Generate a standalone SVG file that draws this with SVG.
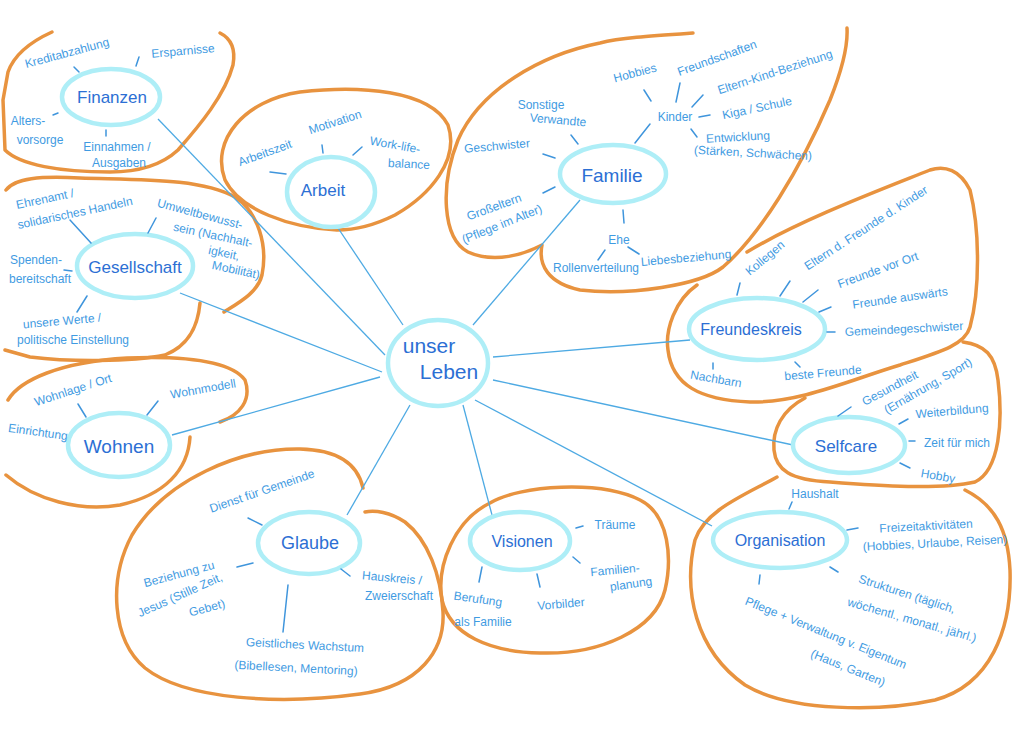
<svg xmlns="http://www.w3.org/2000/svg" width="1024" height="744" viewBox="0 0 1024 744">
<style>
.blob{fill:none;stroke:#e8933f;stroke-width:3.5;stroke-linecap:round;stroke-linejoin:round}
.node{fill:#ffffff;stroke:#aeeef7;stroke-width:4.5}
.n{font-family:"Liberation Sans",Arial,sans-serif;fill:#2c6fd4;text-anchor:middle;dominant-baseline:central}
.s{font-family:"Liberation Sans",Arial,sans-serif;font-size:12px;fill:#3f9be2;text-anchor:middle;dominant-baseline:central}
.t{stroke:#3f95dc;stroke-width:1.5;stroke-linecap:round;fill:none}
.c{stroke:#4eaae3;stroke-width:1.3;fill:none}
</style>
<rect width="1024" height="744" fill="#ffffff"/>
<g id="blobs">
<path class="blob" d="M52,32 C30,42 14,55 8,72 L3,100 L5,150 C20,165 60,172 110,172 C145,172 165,162 178,150 C200,125 225,95 233,65 C236,48 230,38 220,33"/>
<path class="blob" d="M6,190 C15,178 40,176 80,178 C140,180 200,178 235,197 C258,212 268,245 262,275 C258,292 240,302 224,312 M200,303 C198,325 190,345 165,355 C130,362 70,362 30,357 L5,350"/>
<path class="blob" d="M8,400 C20,380 60,362 127,358 C180,356 230,360 245,380 C252,400 240,415 220,422 M190,437 C188,470 165,495 120,505 C80,512 35,500 6,475"/>
<path class="blob" d="M337,230 C290,228 240,210 225,180 C210,140 245,100 300,92 C360,85 430,90 448,125 C460,160 430,195 395,215 C375,225 355,230 337,230 Z"/>
<path class="blob" d="M693,33 C650,36 620,38 600,43 C540,55 480,90 458,140 C440,185 442,238 468,252 C495,264 525,254 542,245 C538,265 548,283 580,290 C630,296 700,285 723,267 C760,235 800,170 830,100 C842,70 848,45 847,28"/>
<path class="blob" d="M697,285 C675,300 665,330 668,350 C672,385 700,400 750,402 C800,403 850,380 900,365 C940,352 965,345 970,327 C980,290 980,230 970,190 C960,170 945,165 930,170 C880,190 800,220 747,252"/>
<path class="blob" d="M805,398 C782,410 772,430 774,450 C776,470 790,480 830,482 C880,486 940,490 975,482 C1000,470 1003,420 998,380 C995,355 985,345 963,342"/>
<path class="blob" d="M777,477 C745,495 705,510 695,540 C683,590 695,650 745,685 C790,712 880,712 935,700 C990,685 1012,630 1010,570 C1008,530 995,505 965,490"/>
<path class="blob" d="M490,503 C520,485 600,480 640,500 C670,515 672,560 665,590 C655,630 600,655 540,653 C490,652 450,635 442,600 C436,565 455,520 490,503 Z"/>
<path class="blob" d="M363,488 C358,465 340,450 300,449 C240,448 165,480 132,535 C108,580 112,640 145,668 C185,700 280,705 360,694 C420,686 445,650 443,612 C441,575 428,540 405,522 C390,512 375,510 365,512"/>
</g>
<g id="connectors">
<line class="c" x1="158" y1="119" x2="385" y2="355"/>
<line class="c" x1="338" y1="228" x2="403" y2="325"/>
<line class="c" x1="580" y1="200" x2="473" y2="325"/>
<line class="c" x1="180" y1="293" x2="382" y2="372"/>
<line class="c" x1="172" y1="435" x2="380" y2="377"/>
<line class="c" x1="347" y1="515" x2="410" y2="405"/>
<line class="c" x1="492" y1="515" x2="463" y2="405"/>
<line class="c" x1="712" y1="526" x2="475" y2="400"/>
<line class="c" x1="793" y1="445" x2="493" y2="380"/>
<line class="c" x1="690" y1="340" x2="493" y2="357"/>
</g>
<g id="center">
<ellipse class="node" cx="438" cy="363" rx="50" ry="43"/>
<text class="n" x="429" y="345" font-size="21" fill="#3a8fe0">unser</text>
<text class="n" x="449" y="371" font-size="21" fill="#3a8fe0">Leben</text>
</g>
<g id="finanzen">
<ellipse class="node" cx="111" cy="97" rx="49" ry="28"/>
<text class="n" x="112" y="97" font-size="17">Finanzen</text>
<text class="s" x="67" y="53" transform="rotate(-15 67 53)">Kreditabzahlung</text>
<text class="s" x="183" y="51" font-size="13" transform="rotate(-5 183 51)">Ersparnisse</text>
<text class="s" x="28" y="121">Alters-</text>
<text class="s" x="40" y="140">vorsorge</text>
<text class="s" x="117" y="147">Einnahmen /</text>
<text class="s" x="119" y="163">Ausgaben</text>
<path class="t" d="M74,67 L79,72 M139,57 L136,66 M53,115 L58,113 M106,130 L106,136"/>
</g>
<g id="gesellschaft">
<ellipse class="node" cx="135" cy="266" rx="58" ry="32"/>
<text class="n" x="135" y="267" font-size="17">Gesellschaft</text>
<text class="s" x="45" y="199" transform="rotate(-12 45 199)">Ehrenamt /</text>
<text class="s" x="75" y="213" transform="rotate(-12 75 213)">solidarisches Handeln</text>
<text class="s" x="200" y="214" font-size="11" transform="rotate(15 200 214)">Umweltbewusst-</text>
<text class="s" x="213" y="235" font-size="11" transform="rotate(12 213 235)">sein (Nachhalt-</text>
<text class="s" x="224" y="253" font-size="11" transform="rotate(12 224 253)">igkeit,</text>
<text class="s" x="236" y="270" font-size="11" transform="rotate(12 236 270)">Mobilität)</text>
<text class="s" x="36" y="260">Spenden-</text>
<text class="s" x="40" y="279">bereitschaft</text>
<text class="s" x="62" y="321" transform="rotate(-5 62 321)">unsere Werte /</text>
<text class="s" x="73" y="340">politische Einstellung</text>
<path class="t" d="M70,220 L91,243 M156,218 L148,233 M64,270 L72,271 M87,296 L77,312"/>
</g>
<g id="wohnen">
<ellipse class="node" cx="119" cy="445" rx="51" ry="32"/>
<text class="n" x="119" y="446" font-size="19">Wohnen</text>
<text class="s" x="73" y="390" transform="rotate(-18 73 390)">Wohnlage / Ort</text>
<text class="s" x="203" y="389" font-size="13" transform="rotate(-10 203 389)">Wohnmodell</text>
<text class="s" x="38" y="432" font-size="11" transform="rotate(8 38 432)">Einrichtung</text>
<path class="t" d="M78,404 L86,417 M158,401 L147,415"/>
</g>
<g id="arbeit">
<ellipse class="node" cx="331" cy="192" rx="44" ry="35"/>
<text class="n" x="323" y="190" font-size="17">Arbeit</text>
<text class="s" x="265" y="153" transform="rotate(-20 265 153)">Arbeitszeit</text>
<text class="s" x="335" y="122" transform="rotate(-18 335 122)">Motivation</text>
<text class="s" x="395" y="145" transform="rotate(10 395 145)">Work-life-</text>
<text class="s" x="409" y="164" transform="rotate(3 409 164)">balance</text>
<path class="t" d="M270,172 L286,174 M322,145 L323,153 M362,147 L353,155"/>
</g>
<g id="familie">
<ellipse class="node" cx="613" cy="174" rx="53" ry="29"/>
<text class="n" x="612" y="175" font-size="19">Familie</text>
<text class="s" x="635" y="73" transform="rotate(-15 635 73)">Hobbies</text>
<text class="s" x="717" y="58" transform="rotate(-20 717 58)">Freundschaften</text>
<text class="s" x="775" y="72" font-size="13" transform="rotate(-18 775 72)">Eltern-Kind-Beziehung</text>
<text class="s" x="757" y="108" font-size="13" transform="rotate(-12 757 108)">Kiga / Schule</text>
<text class="s" x="738" y="137" transform="rotate(-3 738 137)">Entwicklung</text>
<text class="s" x="753" y="153" transform="rotate(3 753 153)">(Stärken, Schwächen)</text>
<text class="s" x="675" y="117">Kinder</text>
<text class="s" x="541" y="105">Sonstige</text>
<text class="s" x="558" y="120" transform="rotate(5 558 120)">Verwandte</text>
<text class="s" x="497" y="146" transform="rotate(-5 497 146)">Geschwister</text>
<text class="s" x="494" y="207" transform="rotate(-20 494 207)">Großeltern</text>
<text class="s" x="502" y="224" transform="rotate(-22 502 224)">(Pflege im Alter)</text>
<text class="s" x="619" y="240">Ehe</text>
<text class="s" x="596" y="268">Rollenverteilung</text>
<text class="s" x="686" y="258" transform="rotate(-5 686 258)">Liebesbeziehung</text>
<path class="t" d="M644,90 L651,101 M680,83 L676,102 M703,95 L692,107 M699,117 L710,115 M691,129 L697,137 M650,124 L635,143 M571,135 L578,144 M543,154 L555,158 M543,193 L555,187 M623,210 L624,223 M605,250 L598,260 M628,247 L639,254"/>
</g>
<g id="freundeskreis">
<ellipse class="node" cx="757" cy="329" rx="68" ry="31"/>
<text class="n" x="751" y="329" font-size="16">Freundeskreis</text>
<text class="s" x="765" y="258" font-size="13" transform="rotate(-40 765 258)">Kollegen</text>
<text class="s" x="866" y="228" font-size="12.5" transform="rotate(-33 866 228)">Eltern d. Freunde d. Kinder</text>
<text class="s" x="878" y="270" font-size="13" transform="rotate(-20 878 270)">Freunde vor Ort</text>
<text class="s" x="900" y="298" font-size="13" transform="rotate(-8 900 298)">Freunde auswärts</text>
<text class="s" x="904" y="329" font-size="12.5" transform="rotate(-3 904 329)">Gemeindegeschwister</text>
<text class="s" x="716" y="379" transform="rotate(10 716 379)">Nachbarn</text>
<text class="s" x="823" y="373" transform="rotate(-5 823 373)">beste Freunde</text>
<path class="t" d="M740,283 L737,295 M790,281 L780,296 M818,290 L803,302 M831,307 L819,312 M827,332 L835,332 M713,363 L713,369 M795,362 L800,367"/>
</g>
<g id="selfcare">
<ellipse class="node" cx="849" cy="445" rx="56" ry="28"/>
<text class="n" x="846" y="446" font-size="17">Selfcare</text>
<text class="s" x="890" y="388" transform="rotate(-28 890 388)">Gesundheit</text>
<text class="s" x="928" y="386" transform="rotate(-30 928 386)">(Ernährung, Sport)</text>
<text class="s" x="952" y="411" font-size="13" transform="rotate(-5 952 411)">Weiterbildung</text>
<text class="s" x="957" y="443" font-size="13">Zeit für mich</text>
<text class="s" x="938" y="476" font-size="13" transform="rotate(10 938 476)">Hobby</text>
<path class="t" d="M851,407 L838,416 M908,419 L899,424 M909,441 L915,441 M900,463 L910,468"/>
</g>
<g id="organisation">
<ellipse class="node" cx="780" cy="540" rx="67" ry="28"/>
<text class="n" x="780" y="540" font-size="16">Organisation</text>
<text class="s" x="815" y="494">Haushalt</text>
<text class="s" x="926" y="526" transform="rotate(-3 926 526)">Freizeitaktivitäten</text>
<text class="s" x="935" y="543" font-size="11" transform="rotate(-3 935 543)">(Hobbies, Urlaube, Reisen)</text>
<text class="s" x="907" y="594" font-size="13" transform="rotate(18 907 594)">Strukturen (täglich,</text>
<text class="s" x="912" y="620" font-size="11.5" transform="rotate(16 912 620)">wöchentl., monatl., jährl.)</text>
<text class="s" x="826" y="633" transform="rotate(22 826 633)">Pflege + Verwaltung v. Eigentum</text>
<text class="s" x="848" y="668" font-size="13" transform="rotate(22 848 668)">(Haus, Garten)</text>
<path class="t" d="M792,502 L789,509 M847,530 L858,528 M830,567 L838,572 M760,575 L759,584"/>
</g>
<g id="visionen">
<ellipse class="node" cx="520" cy="541" rx="50" ry="29"/>
<text class="n" x="522" y="541" font-size="16">Visionen</text>
<text class="s" x="615" y="525" font-size="13">Träume</text>
<text class="s" x="615" y="570" transform="rotate(-5 615 570)">Familien-</text>
<text class="s" x="631" y="584" transform="rotate(-8 631 584)">planung</text>
<text class="s" x="561" y="604" transform="rotate(-5 561 604)">Vorbilder</text>
<text class="s" x="478" y="599" transform="rotate(8 478 599)">Berufung</text>
<text class="s" x="483" y="622" font-size="11">als Familie</text>
<path class="t" d="M576,528 L583,526 M573,557 L580,563 M537,574 L540,587 M482,567 L479,582"/>
</g>
<g id="glaube">
<ellipse class="node" cx="309" cy="543" rx="51" ry="31"/>
<text class="n" x="310" y="543" font-size="18">Glaube</text>
<text class="s" x="262" y="491" font-size="13" transform="rotate(-19 262 491)">Dienst für Gemeinde</text>
<text class="s" x="179" y="574" transform="rotate(-15 179 574)">Beziehung zu</text>
<text class="s" x="180" y="595" font-size="11" transform="rotate(-24 180 595)">Jesus (Stille Zeit,</text>
<text class="s" x="207" y="608" font-size="11" transform="rotate(-15 207 608)">Gebet)</text>
<text class="s" x="392" y="578" transform="rotate(5 392 578)">Hauskreis /</text>
<text class="s" x="399" y="596">Zweierschaft</text>
<text class="s" x="305" y="645" font-size="13" transform="rotate(3 305 645)">Geistliches Wachstum</text>
<text class="s" x="296" y="668" transform="rotate(3 296 668)">(Bibellesen, Mentoring)</text>
<path class="t" d="M248,518 L262,525 M237,567 L253,563 M341,569 L350,576 M288,585 L283,632"/>
</g>
</svg>
